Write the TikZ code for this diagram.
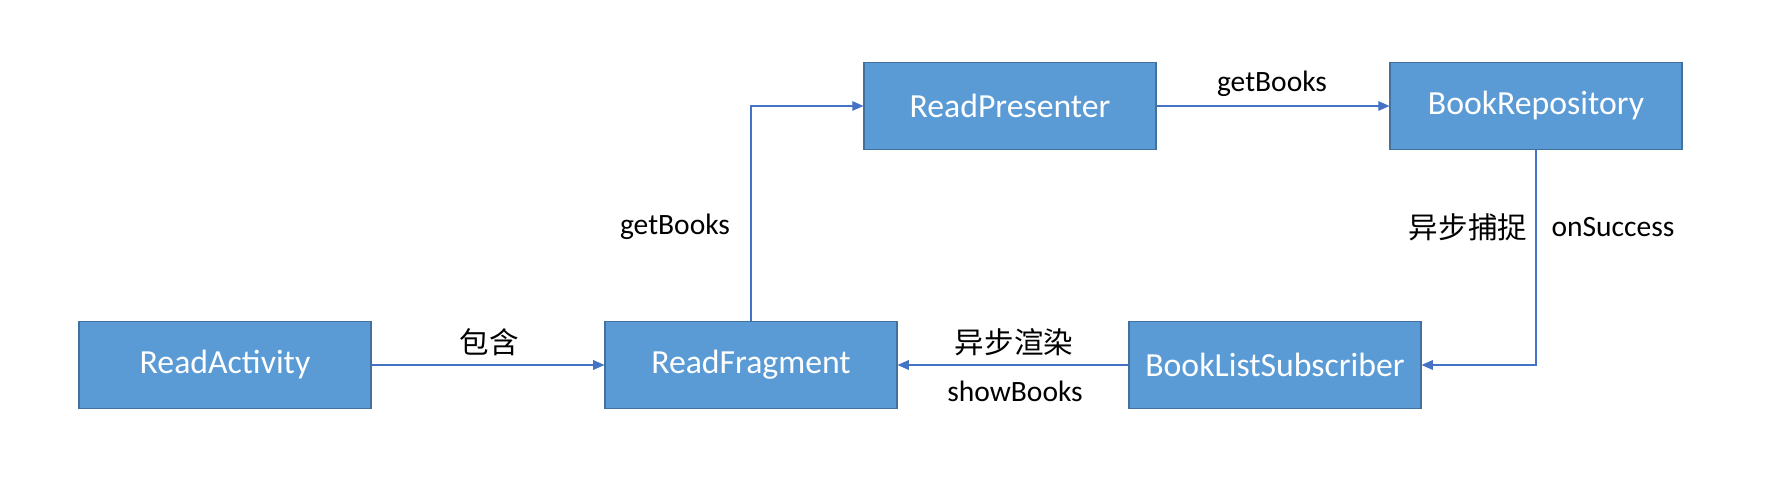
\documentclass[tikz,border=0pt]{standalone}
\usepackage{fontspec}
\setmainfont{Carlito}
\newfontfamily\cjk{Noto Sans CJK SC}
\usepackage{tikz}
\usetikzlibrary{arrows.meta,positioning}
\definecolor{boxfill}{HTML}{5B9BD5}
\definecolor{boxedge}{HTML}{41719C}
\definecolor{linecol}{HTML}{4472C4}

\begin{document}
\begin{tikzpicture}
	\tikzstyle{cbox}=[rectangle, draw=boxedge, fill=boxfill, text=white, line width=0.8pt, minimum width=7.3cm, minimum height=2.175cm, font=\fontsize{24}{28}\selectfont]
	\tikzstyle{lbl}=[inner sep=0pt, font=\fontsize{21}{25}\selectfont]
	\tikzstyle{link}=[draw=linecol, line width=0.9pt, -{Triangle[length=0.28cm,width=0.24cm]}]
	\useasboundingbox (0,0) rectangle (44.4,11.925);
	\node[cbox] (activity) at (5.625,2.8) {ReadActivity};
	\node[cbox] (fragment) at (18.775,2.8) {ReadFragment};
	\node[cbox] (subscriber) at (31.875,2.8) {BookListSubscriber};
	\node[cbox] (presenter) at (25.25,9.275) {ReadPresenter};
	\node[cbox] (repo) at (38.4,9.275) {BookRepository};
	\draw[link] (activity) -- (fragment);
	\draw[link] (fragment.north) |- (presenter.west);
	\draw[link] (presenter) -- (repo);
	\draw[link] (repo.south) |- (subscriber.east);
	\draw[link] (subscriber) -- (fragment);
	% labels
	\node[lbl] (contain) at (12.225,3.375) {\cjk 包含};
	\node[lbl] (getleft) at (16.875,6.25) {getBooks};
	\node[lbl] (gettop) at (31.8,9.825) {getBooks};
	\node[lbl] (catch) at (36.7,6.25) {\cjk 异步捕捉};
	\node[lbl] (success) at (40.325,6.25) {onSuccess};
	\node[lbl] (render) at (25.35,3.375) {\cjk 异步渲染};
	\node[lbl] (show) at (25.375,2.15) {showBooks};
\end{tikzpicture}
\end{document}
